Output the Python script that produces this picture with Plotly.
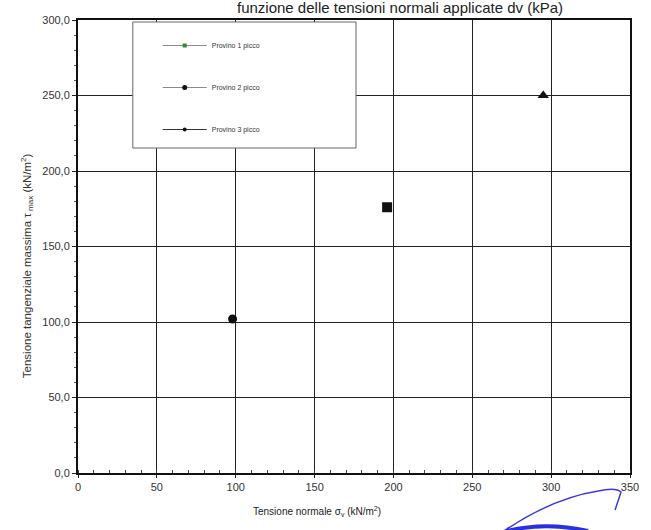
import plotly.graph_objects as go

# Peak shear strength of the three specimens vs applied normal stress
series_names = ["Provino 1 picco", "Provino 2 picco", "Provino 3 picco"]
normal_stress = [98, 196, 295]          # sigma_v (kN/m2)
shear_peak = [102, 176, 250]            # tau_max (kN/m2)
point_symbols = ["circle", "square", "triangle-up"]
legend_marker_colors = ["#2e8b2e", "#111111", "#111111"]
legend_line_colors = ["#8a8a8a", "#8a8a8a", "#333333"]

x_ticks = [0, 50, 100, 150, 200, 250, 300, 350]
y_ticks = [0, 50, 100, 150, 200, 250, 300]

W, H = 651, 530
L, R, T, B = 78, 19, 20, 57
pw, ph = W - L - R, H - T - B


def px(X):
    return (X - L) / pw


def py(Y):
    return (H - B - Y) / ph


fig = go.Figure()

# plotted points
for i, name in enumerate(series_names):
    fig.add_trace(go.Scatter(
        x=[normal_stress[i]], y=[shear_peak[i]], mode="markers",
        marker=dict(symbol=point_symbols[i], size=10 if i else 9, color="#111111"),
        showlegend=False, name=name,
    ))

# legend entries (line + small marker)
for i, name in enumerate(series_names):
    fig.add_trace(go.Scatter(
        x=[None], y=[None], mode="lines+markers", name=name,
        line=dict(color=legend_line_colors[i], width=1),
        marker=dict(symbol="circle" if i else "square", size=4 if i != 1 else 5,
                    color=legend_marker_colors[i]),
        legendgroup=f"g{i}",
    ))

axis_font = dict(family="Liberation Sans, Arial", size=11, color="#333333")

fig.update_xaxes(
    range=[0, 350], tickvals=x_ticks, ticktext=[str(v) for v in x_ticks],
    showgrid=True, gridcolor="#222222", gridwidth=1,
    showline=True, linecolor="#111111", linewidth=2, mirror=True,
    ticks="outside", ticklen=3, tickcolor="#222222", tickfont=axis_font,
    minor=dict(dtick=10, ticks="inside", ticklen=3, tickcolor="#444444", showgrid=False),
    zeroline=False,
)
fig.update_yaxes(
    range=[0, 300], tickvals=y_ticks, ticktext=[f"{v:.1f}".replace(".", ",") for v in y_ticks],
    showgrid=True, gridcolor="#222222", gridwidth=1,
    showline=True, linecolor="#111111", linewidth=2, mirror=True,
    ticks="outside", ticklen=4, tickcolor="#222222", tickfont=axis_font,
    minor=dict(dtick=10, ticks="outside", ticklen=2, tickcolor="#555555", showgrid=False),
    zeroline=False,
)

shapes = [
    # legend frame
    dict(type="rect", xref="paper", yref="paper",
         x0=px(133), x1=px(357), y0=py(148), y1=py(22),
         fillcolor="white", line=dict(color="#666666", width=1), layer="above"),
    # blue pen stroke below the axis
    dict(type="path", xref="paper", yref="paper",
         path=(f"M {px(507)},{py(530)} Q {px(555)},{py(498)} {px(600)},{py(491)} "
               f"Q {px(618)},{py(487)} {px(623)},{py(492)} L {px(617)},{py(510)}"),
         line=dict(color="#3a3ad8", width=1.5), layer="above"),
    dict(type="path", xref="paper", yref="paper",
         path=f"M {px(505)},{py(532)} Q {px(545)},{py(521)} {px(590)},{py(531)}",
         line=dict(color="#2a30e0", width=4), layer="above"),
]

annotations = [
    dict(text="Tensione tangenziale massima \u03c4<sub> max</sub> (kN/m<sup>2</sup>)",
         xref="paper", yref="paper", x=px(17), y=py(266), textangle=-90,
         showarrow=False, font=dict(family="Liberation Sans, Arial", size=11.5, color="#333333")),
    dict(text="Tensione normale \u03c3<sub>v</sub> (kN/m<sup>2</sup>)",
         xref="paper", yref="paper", x=px(318), y=py(520),
         showarrow=False, font=dict(family="Liberation Sans, Arial", size=10, color="#222222")),
]

fig.update_layout(
    width=W, height=H,
    margin=dict(l=L, r=R, t=T, b=B),
    paper_bgcolor="white", plot_bgcolor="white",
    title=dict(text="funzione delle tensioni normali applicate dv (kPa)",
               x=400 / W, xanchor="center", y=1 - 8 / H, yanchor="middle",
               font=dict(family="Liberation Sans, Arial", size=15, color="#222222")),
    legend=dict(x=px(158), y=py(31), xanchor="left", yanchor="top",
                bgcolor="rgba(0,0,0,0)", borderwidth=0,
                font=dict(family="Liberation Sans, Arial", size=7, color="#333333"),
                itemwidth=44, tracegroupgap=23),
    shapes=shapes, annotations=annotations,
    showlegend=True,
)

fig.write_html("out.html")
